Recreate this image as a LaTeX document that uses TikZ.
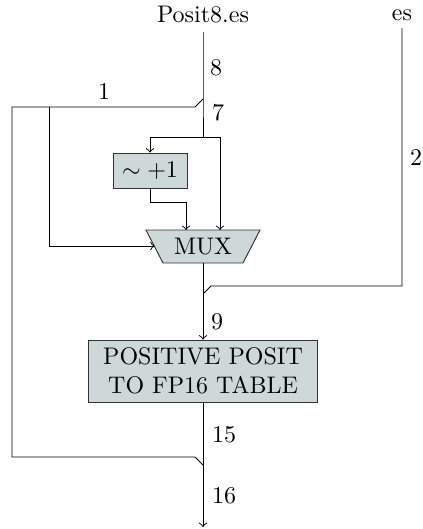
\documentclass[tikz,border=0pt]{standalone}
\usetikzlibrary{calc}
\definecolor{boxfill}{HTML}{CFD8D8}
\definecolor{boxline}{HTML}{333333}
\newdimen\pxu \pxu=0.4167pt
\begin{document}
\begin{tikzpicture}[x=\pxu,y=-\pxu,
  wire/.style={draw=black, line width=0.4pt},
  arr/.style={wire,->},
  blockbox/.style={draw=boxline, fill=boxfill, line width=0.4pt, inner sep=0pt, align=center},
  lbl/.style={inner sep=0pt, anchor=center}]
\useasboundingbox (0,0) rectangle (422,529);
% texts at top
\node[lbl] (pin) at (203,15) {Posit8.es};
\node[lbl] (esin) at (402,15) {es};
\coordinate (ptop) at (203,32);
\coordinate (estop) at (402,28);
% split of sign bit
\coordinate (s1a) at (203,99);
\coordinate (s1b) at (195,107);
\coordinate (lb) at (12,107);
\coordinate (jn) at (49,107);
% branch
\coordinate (br) at (203,137);
\coordinate (brl) at (150,137);
\coordinate (brr) at (220,137);
% negate box
\node[blockbox, minimum width=74\pxu, minimum height=35\pxu] (neg) at (150,170.5) {$\sim +1$};
\coordinate (negd) at (150,202);
\coordinate (negr) at (186,202);
% MUX
\path[draw=boxline, fill=boxfill, line width=0.4pt] (146,230) -- (260,230) -- (243,263) -- (163,263) -- cycle;
\node[lbl] (mux) at (203,247) {MUX};
\coordinate (muxin1) at (186,230);
\coordinate (muxin2) at (220,230);
\coordinate (muxleft) at (154.5,246);
\coordinate (jnd) at (49,246);
\coordinate (muxout) at (203,263);
% es merge
\coordinate (esd) at (402,286);
\coordinate (esm) at (211,286);
\coordinate (esj) at (203,294);
% table
\node[blockbox, minimum width=229\pxu, minimum height=62\pxu] (tab) at (203,371) {POSITIVE POSIT\\TO FP16 TABLE};
% output
\coordinate (lbd) at (12,457);
\coordinate (lbr) at (195,457);
\coordinate (oj) at (203,465);
\coordinate (out) at (203,527);
% wires
\draw[wire] (ptop) -- (s1a) -- (br);
\draw[wire] (s1a) -- (s1b) -- (lb) -- (lbd) -- (lbr) -- (oj);
\draw[arr] (jn) -- (jnd) -- (muxleft);
\draw[arr] (brl) -- (brr) -- (muxin2);
\draw[arr] (brl) -- (neg.north);
\draw[arr] (neg.south) -- (negd) -- (negr) -- (muxin1);
\draw[arr] (muxout) -- (tab.north);
\draw[wire] (estop) -- (esd) -- (esm) -- (esj);
\draw[arr] (tab.south) -- (out);
% labels
\node[lbl] (l8) at (216,68) {8};
\node[lbl] (l7) at (218,113) {7};
\node[lbl] (l1) at (104,92) {1};
\node[lbl] (l2) at (416,158) {2};
\node[lbl] (l9) at (217,322) {9};
\node[lbl] (l15) at (224,435) {15};
\node[lbl] (l16) at (224,496) {16};
\end{tikzpicture}
\end{document}
